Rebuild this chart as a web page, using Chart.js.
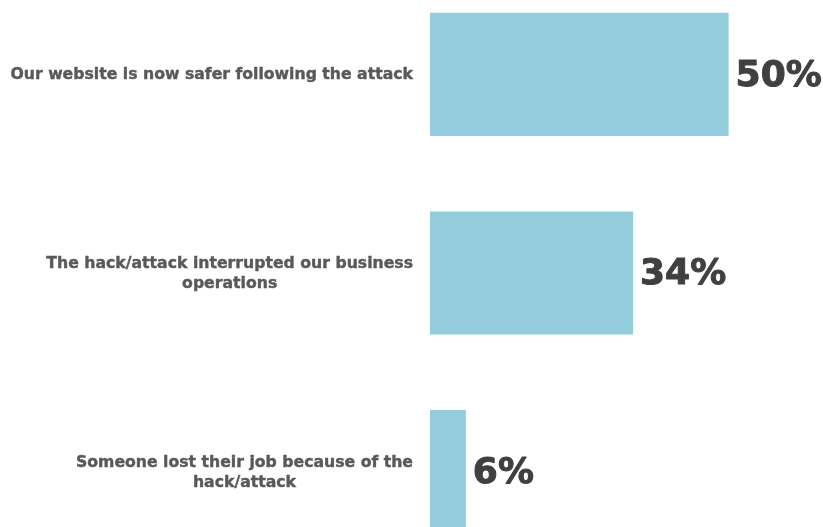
<!DOCTYPE html>
<html>
<head>
<meta charset="utf-8">
<script src="https://cdn.jsdelivr.net/npm/chart.js@4"></script>
<style>
    html, body { margin: 0; padding: 0; background: #fff; overflow: hidden; }
    #wrap { position: relative; width: 823px; height: 527px; overflow: hidden; }
    #wrap canvas { position: absolute; left: 0; top: -25px; }
</style>
</head>
<body>
<div id="wrap"><canvas id="impactChart" width="823" height="596"></canvas></div>
<script>
// Survey answers, one line of text per array entry
const categories = [
    ['Our website is now safer following the attack'],
    ['The hack/attack interrupted our business', 'operations'],
    ['Someone lost their job because of the', 'hack/attack']
];
const shares = [50, 34, 6];
const valueLabels = ['50%', '34%', '6%'];

const labelFont = 'bold 15.7px "DejaVu Sans", Verdana, sans-serif';
const valueFont = 'bold 36px "DejaVu Sans", Verdana, sans-serif';

// Category text on the left and percentages at the bar ends
const textPlugin = {
    id: 'barText',
    afterDatasetsDraw(chart) {
        const ctx = chart.ctx;
        const yScale = chart.scales.y;
        const meta = chart.getDatasetMeta(0);
        const lineHeight = 20;
        const rightEdge = 413;

        ctx.save();
        ctx.textBaseline = 'middle';
        ctx.lineJoin = 'round';

        ctx.font = labelFont;
        ctx.fillStyle = '#595959';
        ctx.strokeStyle = '#595959';
        ctx.lineWidth = 0.4;
        ctx.textAlign = 'center';
        categories.forEach((lines, i) => {
            const yc = yScale.getPixelForValue(i) + 1;
            const maxW = Math.max(...lines.map(l => ctx.measureText(l).width));
            const xc = rightEdge - maxW / 2;
            const y0 = yc - (lines.length - 1) * lineHeight / 2;
            lines.forEach((l, j) => {
                ctx.fillText(l, xc, y0 + j * lineHeight);
                ctx.strokeText(l, xc, y0 + j * lineHeight);
            });
        });

        ctx.font = valueFont;
        ctx.fillStyle = '#404040';
        ctx.strokeStyle = '#404040';
        ctx.lineWidth = 1;
        ctx.textAlign = 'left';
        meta.data.forEach((bar, i) => {
            ctx.fillText(valueLabels[i], bar.x + 7, bar.y + 2);
            ctx.strokeText(valueLabels[i], bar.x + 7, bar.y + 2);
        });
        ctx.restore();
    }
};

new Chart(document.getElementById('impactChart'), {
    type: 'bar',
    data: {
        labels: categories.map(c => c.join(' ')),
        datasets: [{
            data: shares,
            backgroundColor: '#93cddd',
            borderWidth: 0,
            barPercentage: 0.62,
            categoryPercentage: 1
        }]
    },
    options: {
        indexAxis: 'y',
        responsive: false,
        animation: false,
        layout: { padding: { left: 430, right: 35, top: 0, bottom: 0 } },
        plugins: {
            legend: { display: false },
            tooltip: { enabled: false }
        },
        scales: {
            x: { display: false, min: 0, max: 59.95 },
            y: { display: false }
        }
    },
    plugins: [textPlugin]
});
</script>
</body>
</html>
